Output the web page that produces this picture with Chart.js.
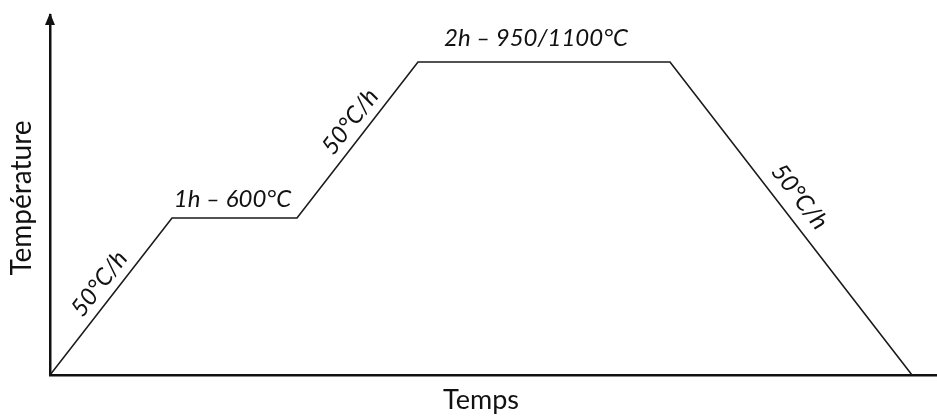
<!DOCTYPE html>
<html>
<head>
<meta charset="utf-8">
<script src="https://cdn.jsdelivr.net/npm/chart.js@4.4.0/dist/chart.umd.min.js"></script>
<style>
  body { margin: 0; background: #fff; }
  #wrap { width: 937px; height: 416px; }
</style>
</head>
<body>
<div id="wrap"><canvas id="cycle" width="937" height="416"></canvas></div>
<script>
// Heat treatment cycle (arbitrary time / temperature units)
const times = [0, 122, 247, 368, 620, 862];
const temps = [0, 157, 157, 313, 313, 0];
const segmentLabels = ['50°C/h', '1h – 600°C', '50°C/h', '2h – 950/1100°C', '50°C/h'];
const xTitle = 'Temps';
const yTitle = 'Température';

// label placement per segment: [side offset, shift along segment]
const labelPlace = [
  [17, 3],
  [19, -2],
  [17, 10],
  [24, -8],
  [20, -12]
];

const cycleLabels = {
  id: 'cycleLabels',
  afterDatasetsDraw(chart) {
    const ctx = chart.ctx;
    const pts = chart.getDatasetMeta(0).data;
    const area = chart.chartArea;

    // arrow on top of the temperature axis
    ctx.save();
    ctx.fillStyle = '#111';
    ctx.beginPath();
    ctx.moveTo(area.left, area.top - 2);
    ctx.lineTo(area.left - 5, area.top + 10);
    ctx.lineTo(area.left + 5, area.top + 10);
    ctx.closePath();
    ctx.fill();

    // axis titles
    ctx.fillStyle = '#111';
    ctx.textAlign = 'center';
    ctx.textBaseline = 'middle';
    ctx.font = '27px Lato';
    ctx.fillText(xTitle, 481, area.bottom + 25);
    ctx.save();
    ctx.translate(22, 198);
    ctx.rotate(-Math.PI / 2);
    ctx.font = '28px Lato';
    ctx.fillText(yTitle, 0, 0);
    ctx.restore();

    // segment labels, placed beside each segment of the line
    segmentLabels.forEach((txt, i) => {
      const a = pts[i], b = pts[i + 1];
      const dx = b.x - a.x, dy = b.y - a.y;
      const len = Math.hypot(dx, dy);
      const ux = dx / len, uy = dy / len;
      const nx = uy, ny = -ux; // normal pointing up
      const [side, along] = labelPlace[i];
      const cx = (a.x + b.x) / 2 + ux * along + nx * side;
      const cy = (a.y + b.y) / 2 + uy * along + ny * side;
      ctx.save();
      ctx.translate(cx, cy);
      ctx.rotate(Math.atan2(dy, dx));
      ctx.font = 'italic 24px Lato';
      ctx.fillText(txt, 0, 0);
      ctx.restore();
    });
    ctx.restore();
  }
};

new Chart(document.getElementById('cycle'), {
  type: 'line',
  data: {
    datasets: [{
      data: times.map((t, i) => ({ x: t, y: temps[i] })),
      borderColor: '#1a1a1a',
      borderWidth: 1.6,
      pointRadius: 0,
      tension: 0,
      fill: false
    }]
  },
  options: {
    responsive: false,
    animation: false,
    layout: { padding: { left: 50, right: 0, top: 15, bottom: 41 } },
    plugins: { legend: { display: false }, tooltip: { enabled: false } },
    scales: {
      x: {
        type: 'linear', min: 0, max: 887,
        ticks: { display: false },
        grid: { drawOnChartArea: false, drawTicks: false },
        border: { display: true, color: '#111', width: 2.5 }
      },
      y: {
        min: 0, max: 360,
        ticks: { display: false },
        grid: { drawOnChartArea: false, drawTicks: false },
        border: { display: true, color: '#111', width: 2.5 }
      }
    }
  },
  plugins: [cycleLabels]
});
</script>
</body>
</html>
